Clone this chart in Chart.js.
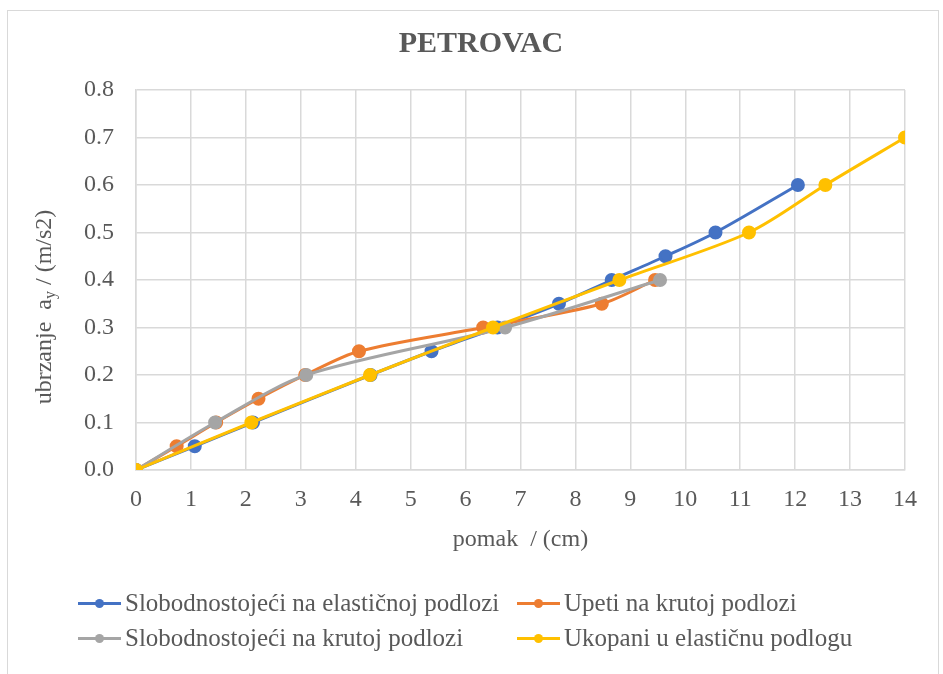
<!DOCTYPE html>
<html>
<head>
<meta charset="utf-8">
<script src="https://cdn.jsdelivr.net/npm/chart.js@4.4.1/dist/chart.umd.min.js"></script>
<style>
  body { margin: 0; background: #fff; }
  #frame { position: absolute; left: 7px; top: 10px; width: 930px; height: 700px; border: 1px solid #d9d9d9; }
  #wrap { position: absolute; left: 0; top: 0; width: 943px; height: 674px; }
  #legend { position: absolute; left: 0; top: 0; width: 943px; height: 674px; pointer-events: none;
            font-family: "Liberation Serif", "Times New Roman", serif; font-size: 25px; color: #595959; }
  .item { position: absolute; height: 30px; line-height: 30px; white-space: nowrap; }
  .icon { position: absolute; left: 0; top: 14px; width: 43px; height: 3px; }
  .dot { position: absolute; left: 17px; top: -3px; width: 9px; height: 9px; border-radius: 50%; }
  .label { position: absolute; left: 47px; top: 0; }
</style>
</head>
<body>
<div id="frame"></div>
<div id="wrap"><canvas id="myChart" width="943" height="674"></canvas></div>
<div id="legend"></div>
<script>
// series: x = pomak (cm), y = ubrzanje (m/s2)
let names = ['Slobodnostojeći na elastičnoj podlozi', 'Upeti na krutoj podlozi',
             'Slobodnostojeći na krutoj podlozi', 'Ukopani u elastičnu podlogu'];
let colors = ['#4472C4', '#ED7D31', '#A5A5A5', '#FFC000'];

let blueX = [0, 1.07, 2.13, 4.27, 5.38, 6.58, 7.70, 8.66, 9.64, 10.55, 12.05];
let blueY = [0, 0.05, 0.10, 0.20, 0.25, 0.30, 0.35, 0.40, 0.45, 0.50, 0.60];

let orangeX = [0, 0.74, 1.46, 2.23, 3.08, 4.06, 6.32, 8.48, 9.45];
let orangeY = [0, 0.05, 0.10, 0.15, 0.20, 0.25, 0.30, 0.35, 0.40];

let greyX = [0, 1.44, 3.10, 6.72, 9.54];
let greyY = [0, 0.10, 0.20, 0.30, 0.40];

let yellowX = [0, 2.10, 4.26, 6.50, 8.80, 11.16, 12.55, 14.0];
let yellowY = [0, 0.10, 0.20, 0.30, 0.40, 0.50, 0.60, 0.70];

let xTicks = [0, 1, 2, 3, 4, 5, 6, 7, 8, 9, 10, 11, 12, 13, 14];
let yTicks = [0, 0.1, 0.2, 0.3, 0.4, 0.5, 0.6, 0.7, 0.8];

let seriesX = [blueX, orangeX, greyX, yellowX];
let seriesY = [blueY, orangeY, greyY, yellowY];

let serif = '"Liberation Serif", "Times New Roman", serif';
let textColor = '#595959';
let gridColor = '#d9d9d9';

let datasets = names.map((name, i) => ({
    label: name,
    data: seriesX[i].map((x, j) => ({ x: x, y: seriesY[i][j] })),
    borderColor: colors[i],
    backgroundColor: colors[i],
    borderWidth: 3,
    pointRadius: 5.5,
    pointHoverRadius: 5.5,
    showLine: true,
    tension: 0.3,
    order: names.length - i
}));

// y axis title with subscript
let yTitle = {
    id: 'yTitle',
    afterDraw(chart) {
        let ctx = chart.ctx;
        ctx.save();
        ctx.translate(45, 307);
        ctx.rotate(-Math.PI / 2);
        ctx.fillStyle = textColor;
        ctx.textBaseline = 'middle';
        ctx.textAlign = 'left';
        let big = '24px ' + serif, small = '16px ' + serif;
        let parts = [['ubrzanje  a', big, 0], ['y', small, 6], [' / (m/s2)', big, 0]];
        let total = 0;
        parts.forEach(p => { ctx.font = p[1]; total += ctx.measureText(p[0]).width; });
        let x = -total / 2;
        parts.forEach(p => {
            ctx.font = p[1];
            ctx.fillText(p[0], x, p[2]);
            x += ctx.measureText(p[0]).width;
        });
        ctx.restore();
    }
};

let ctx = document.getElementById('myChart').getContext('2d');
let myChart = new Chart(ctx, {
    type: 'scatter',
    data: { datasets: datasets },
    options: {
        responsive: false,
        animation: false,
        layout: { autoPadding: false, padding: { left: 57, right: 38, top: 0, bottom: 104 } },
        plugins: {
            legend: { display: false },
            tooltip: { enabled: false },
            title: {
                display: true,
                text: 'PETROVAC',
                color: textColor,
                font: { family: serif, size: 30, weight: 'bold' },
                padding: { top: 26, bottom: 28 }
            }
        },
        scales: {
            x: {
                type: 'linear',
                min: 0, max: 14,
                afterFit: s => { s.height = 100; },
                afterBuildTicks: s => { s.ticks = xTicks.map(v => ({ value: v })); },
                grid: { color: gridColor, lineWidth: 1.5, drawTicks: false },
                border: { color: gridColor, width: 1.5 },
                ticks: { color: textColor, font: { family: serif, size: 24 }, padding: 15, maxRotation: 0 },
                title: { display: true, text: 'pomak  / (cm)', color: textColor,
                         font: { family: serif, size: 24 }, padding: { bottom: 16 } }
            },
            y: {
                type: 'linear',
                min: 0, max: 0.8,
                afterFit: s => { s.width = 79; },
                afterBuildTicks: s => { s.ticks = yTicks.map(v => ({ value: v })); },
                grid: { color: gridColor, lineWidth: 1.5, drawTicks: false },
                border: { color: gridColor, width: 1.5 },
                ticks: { color: textColor, font: { family: serif, size: 24 }, padding: 22,
                         callback: v => Number(v).toFixed(1) }
            }
        }
    },
    plugins: [yTitle]
});

// legend in two aligned columns
let legendPos = [[78, 588], [517, 588], [78, 623], [517, 623]];
let legend = document.getElementById('legend');
names.forEach((name, i) => {
    let item = document.createElement('div');
    item.className = 'item';
    item.style.left = legendPos[i][0] + 'px';
    item.style.top = legendPos[i][1] + 'px';
    item.innerHTML = '<span class="icon" style="background:' + colors[i] + '"><span class="dot" style="background:' +
        colors[i] + '"></span></span><span class="label"></span>';
    item.querySelector('.label').textContent = name;
    legend.appendChild(item);
});
</script>
</body>
</html>
